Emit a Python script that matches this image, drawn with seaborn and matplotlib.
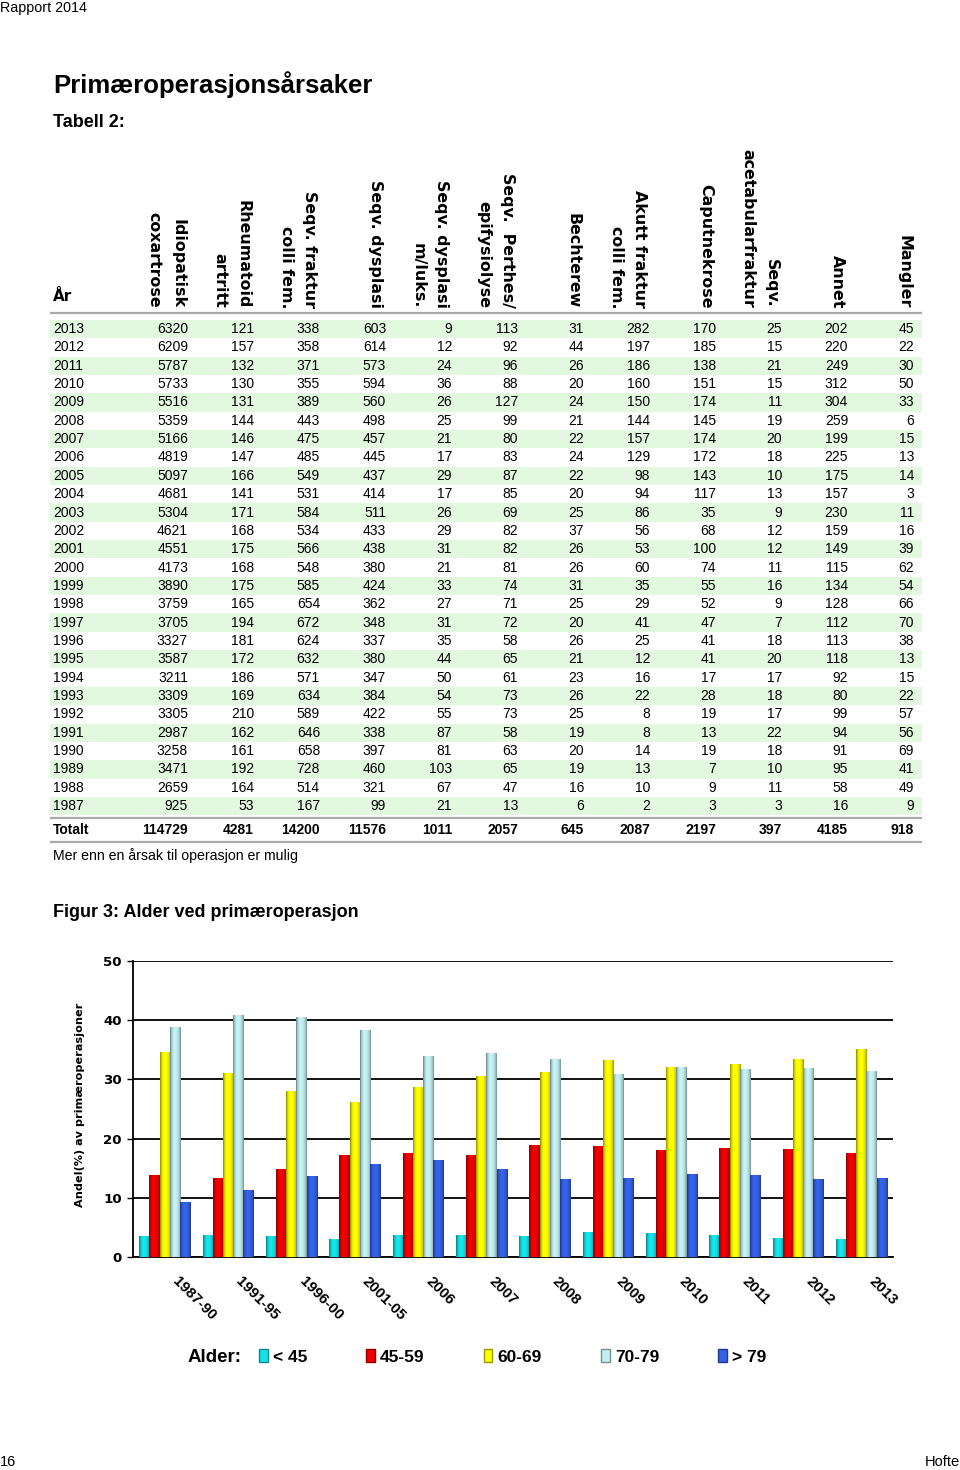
import numpy as np
import pandas as pd
import matplotlib
matplotlib.use("Agg")
import matplotlib.pyplot as plt
import matplotlib.transforms as mtransforms
from matplotlib.patches import Patch, Rectangle
from matplotlib.colors import to_rgb
import seaborn as sns

# ---------------- table data ----------------
years = [2013, 2012, 2011, 2010, 2009, 2008, 2007, 2006, 2005, 2004, 2003, 2002, 2001,
         2000, 1999, 1998, 1997, 1996, 1995, 1994, 1993, 1992, 1991, 1990, 1989, 1988, 1987]
col_headers = ["Idiopatisk\ncoxartrose", "Rheumatoid\nartritt", "Seqv. fraktur\ncolli fem.",
               "Seqv. dysplasi", "Seqv. dysplasi\nm/luks.", "Seqv.  Perthes/\nepifysiolyse",
               "Bechterew", "Akutt fraktur\ncolli fem.", "Caputnekrose",
               "Seqv.\nacetabularfraktur", "Annet", "Mangler"]
idiopatisk = [6320, 6209, 5787, 5733, 5516, 5359, 5166, 4819, 5097, 4681, 5304, 4621, 4551,
              4173, 3890, 3759, 3705, 3327, 3587, 3211, 3309, 3305, 2987, 3258, 3471, 2659, 925]
rheumatoid = [121, 157, 132, 130, 131, 144, 146, 147, 166, 141, 171, 168, 175,
              168, 175, 165, 194, 181, 172, 186, 169, 210, 162, 161, 192, 164, 53]
fraktur_colli = [338, 358, 371, 355, 389, 443, 475, 485, 549, 531, 584, 534, 566,
                 548, 585, 654, 672, 624, 632, 571, 634, 589, 646, 658, 728, 514, 167]
dysplasi = [603, 614, 573, 594, 560, 498, 457, 445, 437, 414, 511, 433, 438,
            380, 424, 362, 348, 337, 380, 347, 384, 422, 338, 397, 460, 321, 99]
dysplasi_luks = [9, 12, 24, 36, 26, 25, 21, 17, 29, 17, 26, 29, 31,
                 21, 33, 27, 31, 35, 44, 50, 54, 55, 87, 81, 103, 67, 21]
perthes = [113, 92, 96, 88, 127, 99, 80, 83, 87, 85, 69, 82, 82,
           81, 74, 71, 72, 58, 65, 61, 73, 73, 58, 63, 65, 47, 13]
bechterew = [31, 44, 26, 20, 24, 21, 22, 24, 22, 20, 25, 37, 26,
             26, 31, 25, 20, 26, 21, 23, 26, 25, 19, 20, 19, 16, 6]
akutt_fraktur = [282, 197, 186, 160, 150, 144, 157, 129, 98, 94, 86, 56, 53,
                 60, 35, 29, 41, 25, 12, 16, 22, 8, 8, 14, 13, 10, 2]
caputnekrose = [170, 185, 138, 151, 174, 145, 174, 172, 143, 117, 35, 68, 100,
                74, 55, 52, 47, 41, 41, 17, 28, 19, 13, 19, 7, 9, 3]
acetabular = [25, 15, 21, 15, 11, 19, 20, 18, 10, 13, 9, 12, 12,
              11, 16, 9, 7, 18, 20, 17, 18, 17, 22, 18, 10, 11, 3]
annet = [202, 220, 249, 312, 304, 259, 199, 225, 175, 157, 230, 159, 149,
         115, 134, 128, 112, 113, 118, 92, 80, 99, 94, 91, 95, 58, 16]
mangler = [45, 22, 30, 50, 33, 6, 15, 13, 14, 3, 11, 16, 39,
           62, 54, 66, 70, 38, 13, 15, 22, 57, 56, 69, 41, 49, 9]
totals = [114729, 4281, 14200, 11576, 1011, 2057, 645, 2087, 2197, 397, 4185, 918]

# ---------------- chart data ----------------
periods = ["1987-90", "1991-95", "1996-00", "2001-05", "2006", "2007",
           "2008", "2009", "2010", "2011", "2012", "2013"]
age_groups = ["< 45", "45-59", "60-69", "70-79", "> 79"]
andel_u45 = [3.4, 3.7, 3.4, 2.9, 3.7, 3.7, 3.4, 4.1, 3.9, 3.7, 3.2, 2.9]
andel_45_59 = [13.8, 13.3, 14.8, 17.1, 17.5, 17.1, 18.9, 18.7, 18.0, 18.4, 18.2, 17.5]
andel_60_69 = [34.6, 31.0, 28.0, 26.1, 28.7, 30.5, 31.2, 33.2, 32.0, 32.5, 33.4, 35.1]
andel_70_79 = [38.7, 40.8, 40.4, 38.3, 33.9, 34.3, 33.4, 30.9, 32.0, 31.6, 31.8, 31.4]
andel_o79 = [9.2, 11.3, 13.6, 15.7, 16.3, 14.8, 13.1, 13.3, 14.0, 13.8, 13.1, 13.3]
y_ticks = [0, 10, 20, 30, 40, 50]
age_colors = ["#14e4ea", "#f00000", "#ffff00", "#c4eff2", "#3562e8"]

# ---------------- figure ----------------
plt.rcParams["font.family"] = ["Liberation Sans", "DejaVu Sans"]
fig = plt.figure(figsize=(9.6, 14.7), dpi=100)

ov = fig.add_axes([0, 0, 1, 1])
ov.set_xlim(0, 960)
ov.set_ylim(1470, 0)
ov.set_axis_off()

NARROW = ["Liberation Sans Narrow", "Liberation Sans", "DejaVu Sans"]
ARIAL = ["Liberation Sans", "DejaVu Sans"]
VERD = ["DejaVu Sans"]

# page texts
ov.text(0, 8, "Rapport 2014", fontsize=10.3, family=ARIAL, va="center", ha="left")
ov.text(0, 1462, "16", fontsize=10.5, family=NARROW, va="center", ha="left")
ov.text(960, 1462, "Hofte", fontsize=10.5, family=NARROW, va="center", ha="right")
ov.text(53, 85, "Primæroperasjonsårsaker", fontsize=18.5, fontweight="bold", family=ARIAL,
        va="center", ha="left")
ov.text(53, 122, "Tabell 2:", fontsize=13, fontweight="bold", family=ARIAL, va="center", ha="left")

# table
columns = [idiopatisk, rheumatoid, fraktur_colli, dysplasi, dysplasi_luks, perthes,
           bechterew, akutt_fraktur, caputnekrose, acetabular, annet, mangler]
row_y0, row_h = 329.0, 18.35
right_edges = [188 + 66 * k for k in range(len(columns))]
tx0, tx1 = 50, 922

ov.text(53, 296, "År", fontsize=11, fontweight="bold", family=VERD, va="center", ha="left")
for hdr, xr in zip(col_headers, right_edges):
    ov.text(xr - 3, 308, hdr, rotation=-90, fontsize=11.4, fontweight="bold", family=VERD,
            ha="right", va="bottom", multialignment="right", linespacing=1.7)

for i, yr in enumerate(years):
    yc = row_y0 + i * row_h
    if i % 2 == 0:
        ov.add_patch(Rectangle((tx0, yc - row_h / 2), tx1 - tx0, row_h,
                               facecolor="#e2f9e0", edgecolor="none", zorder=0))
    ov.text(53, yc, str(yr), fontsize=10, family=ARIAL, va="center", ha="left")
    for col, xr in zip(columns, right_edges):
        ov.text(xr, yc, str(col[i]), fontsize=10, family=ARIAL, va="center", ha="right")

y_tot = 830
ov.text(53, y_tot, "Totalt", fontsize=10, fontweight="bold", family=ARIAL, va="center", ha="left")
for tv, xr in zip(totals, right_edges):
    ov.text(xr, y_tot, str(tv), fontsize=10, fontweight="bold", family=ARIAL,
            va="center", ha="right")
for yl in (313, 818, 842):
    ov.plot([tx0, tx1], [yl, yl], color="#a9a9a9", lw=1.6, solid_capstyle="butt")
ov.text(53, 856, "Mer enn en årsak til operasjon er mulig", fontsize=10.2, family=ARIAL,
        va="center", ha="left")

ov.text(53, 912, "Figur 3: Alder ved primæroperasjon", fontsize=13, fontweight="bold",
        family=ARIAL, va="center", ha="left")

# ---------------- bar chart ----------------
series = dict(zip(age_groups, [andel_u45, andel_45_59, andel_60_69, andel_70_79, andel_o79]))
rows = [(p, a, v) for a, vals in series.items() for p, v in zip(periods, vals)]
df = pd.DataFrame(rows, columns=["Periode", "Alder", "Andel"])

ax = fig.add_axes([133 / 960, 213 / 1470, 760 / 960, 296 / 1470])
sns.barplot(data=df, x="Periode", y="Andel", hue="Alder", order=periods, hue_order=age_groups,
            palette=age_colors, width=0.8, saturation=1, legend=False, ax=ax,
            edgecolor="none", linewidth=0)

pos = [0.0, 0.15, 0.35, 0.62, 0.85, 1.0]
fac = [0.55, 0.85, 1.02, 1.0, 0.85, 0.6]
tt = np.linspace(0, 1, 40)
for p in list(ax.patches):
    h = p.get_height()
    if not np.isfinite(h) or h <= 0:
        continue
    base = np.array(to_rgb(p.get_facecolor()))
    f = np.interp(tt, pos, fac)
    cols = np.clip(base[None, :] * f[:, None], 0, 1)
    x0 = p.get_x()
    w = p.get_width()
    ax.imshow(cols[None, :, :], extent=(x0, x0 + w, p.get_y(), p.get_y() + h),
              aspect="auto", interpolation="bilinear", zorder=3)
    p.set_facecolor("none")

ax.set_xlim(-0.5, len(periods) - 0.5)
ax.set_ylim(0, 50)
ax.set_yticks(y_ticks, labels=[str(v) for v in y_ticks], fontsize=9.6,
              fontweight="bold", family=VERD)
ax.grid(axis="y", color="black", lw=1.3)
ax.grid(axis="x", visible=False)
ax.set_axisbelow(True)
for s in ("top", "right"):
    ax.spines[s].set_visible(False)
for s in ("left", "bottom"):
    ax.spines[s].set_color("black")
    ax.spines[s].set_linewidth(1.3)
ax.patch.set_alpha(0)
ax.tick_params(axis="y", length=4, width=1, color="black", pad=4)
ax.tick_params(axis="x", length=0)
ticks = ax.get_xticks()
ax.set_xticks(ticks)
ax.set_xticklabels([""] * len(ticks))
ax.set_xlabel("")
ax.set_ylabel("")

trans = mtransforms.blended_transform_factory(ax.transData, ax.transAxes) + \
    mtransforms.ScaledTranslation(10 / 100, -22 / 100, fig.dpi_scale_trans)
for xt, lab in zip(ticks, periods):
    ax.text(xt, 0, lab, transform=trans, rotation=-45, rotation_mode="anchor",
            ha="left", va="center", fontsize=10.8, fontweight="bold", family=NARROW,
            clip_on=False)

ov.text(80, 1105, "Andel(%) av primæroperasjoner", rotation=90, fontsize=8.1, fontweight="bold",
        family=VERD, ha="center", va="center")

# legend
ov.text(188, 1357, "Alder:", fontsize=13.5, fontweight="bold", family=NARROW, va="center", ha="left")
handles = [Patch(facecolor=c, edgecolor=tuple(np.array(to_rgb(c)) * 0.6), linewidth=1)
           for c in age_colors]
fig.legend(handles, age_groups, loc="center left", bbox_to_anchor=(259 / 960, 1 - 1357 / 1470),
           ncol=5, frameon=False, prop=dict(family=NARROW, weight="bold", size=12.5),
           handlelength=0.5, handleheight=0.75, handletextpad=0.3, columnspacing=3.4,
           borderpad=0, borderaxespad=0)

fig.savefig("out.png", dpi=100)
